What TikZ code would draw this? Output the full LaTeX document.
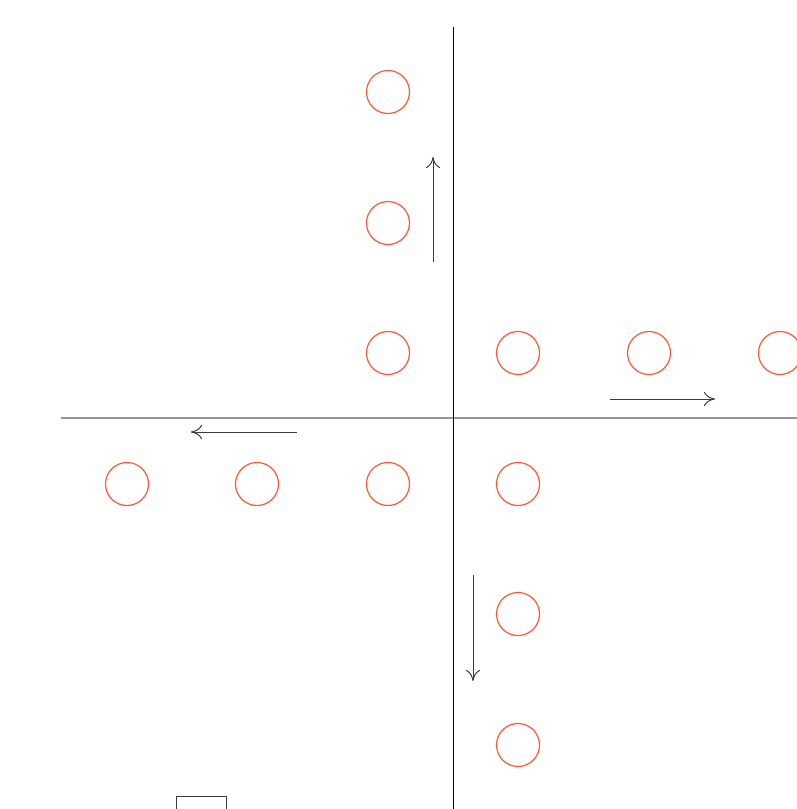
\documentclass[tikz,border=0pt]{standalone}
\usetikzlibrary{arrows.meta}
\definecolor{circ}{RGB}{255,87,51}
\definecolor{axisgray}{RGB}{150,150,150}
\definecolor{arr}{RGB}{60,60,60}
\begin{document}
\begin{tikzpicture}[x=1pt,y=-1pt,
  ring/.style={circle,draw=circ,line width=1.2pt,minimum size=43pt,inner sep=0pt},
  movearrow/.style={draw=arr,line width=1pt,-{To[length=11pt,width=14pt,line width=1pt]}}]
\useasboundingbox (0,0) rectangle (797,809);
\coordinate (vtop) at (453,27);
\coordinate (vbot) at (453,815);
\coordinate (hl) at (61,418);
\coordinate (hr) at (800,418);
\draw[line width=2pt,axisgray] (hl) -- (hr);
\draw[line width=1pt,black] (vtop) -- (vbot);
\node[ring] (c1) at (388,92) {};
\node[ring] (c2) at (388,223) {};
\node[ring] (c3) at (388,353) {};
\node[ring] (c4) at (518,353) {};
\node[ring] (c5) at (649,353) {};
\node[ring] (c6) at (780,353) {};
\node[ring] (c7) at (127,484) {};
\node[ring] (c8) at (257,484) {};
\node[ring] (c9) at (388,484) {};
\node[ring] (c10) at (518,484) {};
\node[ring] (c11) at (518,614) {};
\node[ring] (c12) at (518,745) {};
\coordinate (ua) at (433,262); \coordinate (ub) at (433,157);
\coordinate (ra) at (610,399); \coordinate (rb) at (715,399);
\coordinate (la) at (297,432); \coordinate (lb) at (191,432);
\coordinate (da) at (473,575); \coordinate (db) at (473,681);
\draw[movearrow] (ua) -- (ub);
\draw[movearrow] (ra) -- (rb);
\draw[movearrow] (la) -- (lb);
\draw[movearrow] (da) -- (db);
\draw[draw=arr,line width=1pt] (176,815) -- (176,796) -- (226,796) -- (226,815);
\end{tikzpicture}
\end{document}
